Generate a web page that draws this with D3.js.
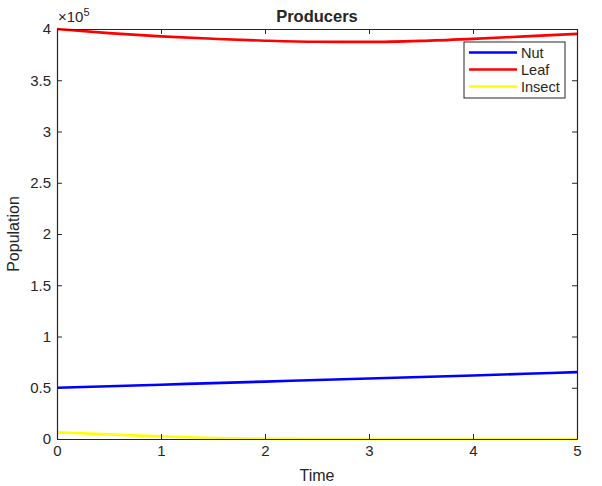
<!DOCTYPE html>
<html>
<head>
<meta charset="utf-8">
<script src="https://cdn.jsdelivr.net/npm/d3@7"></script>
<style>
  body { margin: 0; background: #fff; }
  text { font-family: "Liberation Sans", Arial, sans-serif; fill: #262626; }
</style>
</head>
<body>
<div id="chart"></div>
<script>
// time samples
const time = [0, 0.5, 1, 1.5, 2, 2.5, 3, 3.5, 4, 4.5, 5];
// populations
const nut = [50000, 51500, 53000, 54500, 56000, 57500, 59000, 60500, 62000, 63600, 65200];
const leaf = [400000, 396000, 392800, 390500, 388600, 387500, 387400, 388400, 390400, 392800, 395200];
const insect = [6500, 4500, 2600, 1000, 200, 0, 0, 0, 0, 0, 0];

const seriesNames = ["Nut", "Leaf", "Insect"];
const seriesColors = ["#0000ff", "#ff0000", "#ffff00"];
const xTicks = [0, 1, 2, 3, 4, 5];
const yTicks = [0, 0.5, 1, 1.5, 2, 2.5, 3, 3.5, 4].map(v => v * 1e5);

const w = 602, h = 486;
const margin = {top: 29, right: 25, bottom: 47, left: 57};

const svg = d3.select("#chart")
  .append("svg")
  .attr("width", w)
  .attr("height", h);

const x = d3.scaleLinear().domain([0, 5]).range([margin.left, w - margin.right]);
const y = d3.scaleLinear().domain([0, 4e5]).range([h - margin.bottom, margin.top]);

const axisColor = "#262626";
const tickLen = 5;

// plot lines
const series = [nut, leaf, insect];
const line = d3.line()
  .x((d, i) => x(time[i]))
  .y(d => y(d))
  .curve(d3.curveMonotoneX);

svg.append("g")
  .selectAll("path")
  .data(series)
  .join("path")
  .attr("d", line)
  .attr("fill", "none")
  .attr("stroke", (d, i) => seriesColors[i])
  .attr("stroke-width", 2.6);

// axes, ticks point inward on all sides
const fmt = v => d3.format("")(v / 1e5);
svg.append("g")
  .attr("transform", `translate(0,${y(0)})`)
  .call(d3.axisBottom(x).tickValues(xTicks).tickFormat(d3.format("d")).tickSizeInner(-tickLen).tickSizeOuter(0).tickPadding(9))
  .call(g => g.selectAll("text").attr("font-size", 15).attr("dy", "0.55em"));
svg.append("g")
  .attr("transform", `translate(0,${y(4e5)})`)
  .call(d3.axisTop(x).tickValues(xTicks).tickSizeInner(-tickLen).tickSizeOuter(0).tickFormat(""));
svg.append("g")
  .attr("transform", `translate(${x(0)},0)`)
  .call(d3.axisLeft(y).tickValues(yTicks).tickFormat(fmt).tickSizeInner(-tickLen).tickSizeOuter(0).tickPadding(6))
  .call(g => g.selectAll("text").attr("font-size", 15));
svg.append("g")
  .attr("transform", `translate(${x(5)},0)`)
  .call(d3.axisRight(y).tickValues(yTicks).tickSizeInner(-tickLen).tickSizeOuter(0).tickFormat(""));

svg.selectAll(".domain, .tick line")
  .attr("stroke", axisColor)
  .attr("stroke-width", 1);
svg.selectAll(".domain").attr("stroke-width", 1.2);
svg.selectAll(".tick text").attr("fill", axisColor).style("font-family", "'Liberation Sans', Arial, sans-serif");

// exponent
const ex = svg.append("text")
  .attr("x", x(0) + 1)
  .attr("y", 22)
  .attr("font-size", 15);
ex.append("tspan").text("×10");
ex.append("tspan").attr("dy", -6).attr("font-size", 11).text("5");

// title and labels
svg.append("text")
  .attr("x", (x(0) + x(5)) / 2)
  .attr("y", 22)
  .attr("text-anchor", "middle")
  .attr("font-size", 16.5)
  .attr("font-weight", "bold")
  .attr("fill", "#000")
  .text("Producers");
svg.append("text")
  .attr("x", (x(0) + x(5)) / 2)
  .attr("y", 481)
  .attr("text-anchor", "middle")
  .attr("font-size", 16)
  .text("Time");
svg.append("text")
  .attr("transform", `translate(19,${(y(0) + y(4e5)) / 2}) rotate(-90)`)
  .attr("text-anchor", "middle")
  .attr("font-size", 16)
  .text("Population");

// legend
const lg = svg.append("g").attr("transform", "translate(464,42)");
lg.append("rect")
  .attr("width", 101)
  .attr("height", 56)
  .attr("fill", "#fff")
  .attr("stroke", axisColor)
  .attr("stroke-width", 1);
const rows = lg.selectAll("g.row")
  .data(seriesNames)
  .join("g")
  .attr("class", "row")
  .attr("transform", (d, i) => `translate(0,${10.5 + i * 17})`);
rows.append("line")
  .attr("x1", 5).attr("x2", 53)
  .attr("stroke", (d, i) => seriesColors[i])
  .attr("stroke-width", 2.6);
rows.append("text")
  .attr("x", 57)
  .attr("dy", "0.35em")
  .attr("font-size", 14.5)
  .text(d => d);
</script>
</body>
</html>
